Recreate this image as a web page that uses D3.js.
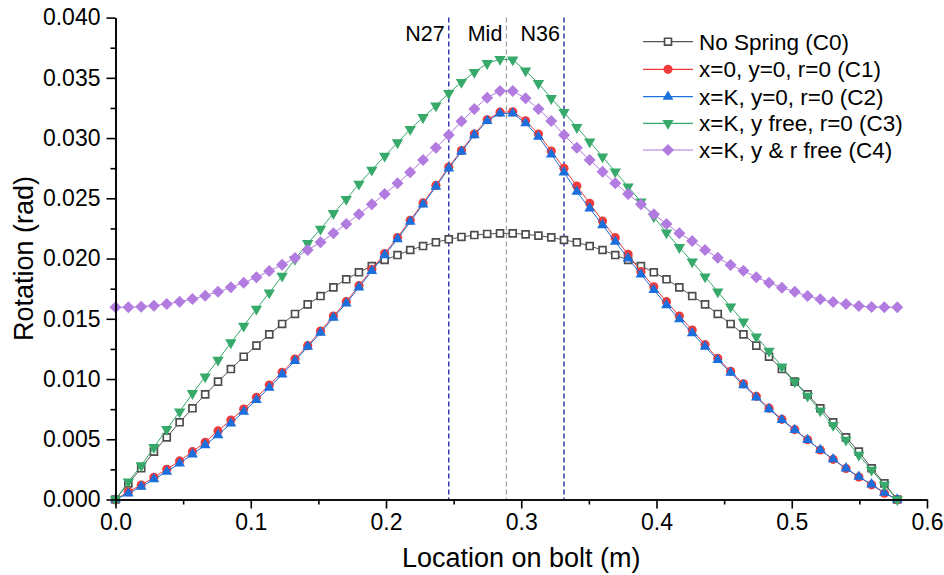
<!DOCTYPE html>
<html>
<head>
<meta charset="utf-8">
<script src="https://cdn.jsdelivr.net/npm/d3@7"></script>
<style>
  html, body { margin: 0; padding: 0; background: #fff; }
  svg { display: block; font-family: "Liberation Sans", Arial, sans-serif; }
</style>
</head>
<body>
<svg id="chart" width="944" height="575"></svg>
<script>
// Node locations along the bolt (m)
const location_m = [
  0.0000, 0.0095, 0.0190, 0.0284, 0.0379, 0.0474, 0.0569, 0.0663, 0.0758, 0.0853,
  0.0948, 0.1042, 0.1137, 0.1232, 0.1327, 0.1421, 0.1516, 0.1611, 0.1706, 0.1800,
  0.1895, 0.1990, 0.2085, 0.2179, 0.2274, 0.2369, 0.2464, 0.2558, 0.2653, 0.2748,
  0.2843, 0.2937, 0.3032, 0.3127, 0.3222, 0.3316, 0.3411, 0.3506, 0.3601, 0.3695,
  0.3790, 0.3885, 0.3980, 0.4074, 0.4169, 0.4264, 0.4359, 0.4453, 0.4548, 0.4643,
  0.4738, 0.4832, 0.4927, 0.5022, 0.5117, 0.5211, 0.5306, 0.5401, 0.5496, 0.5590,
  0.5685, 0.5780
];

// Rotation (rad) for each boundary-condition case
const rotC0 = [
  0, 0.00134, 0.00259, 0.00397, 0.00516, 0.00641, 0.00757, 0.00873, 0.00978, 0.01083,
  0.01185, 0.01277, 0.01371, 0.01457, 0.01540, 0.01620, 0.01689, 0.01761, 0.01828, 0.01886,
  0.01938, 0.01988, 0.02029, 0.02071, 0.02104, 0.02135, 0.02160, 0.02179, 0.02195, 0.02204,
  0.02209, 0.02209, 0.02201, 0.02190, 0.02176, 0.02154, 0.02135, 0.02104, 0.02071, 0.02029,
  0.01988, 0.01938, 0.01886, 0.01828, 0.01761, 0.01689, 0.01620, 0.01540, 0.01457, 0.01371,
  0.01277, 0.01185, 0.01083, 0.00978, 0.00873, 0.00757, 0.00641, 0.00516, 0.00397, 0.00259,
  0.00134, 0
];
const rotC1 = [
  0, 0.00065, 0.00120, 0.00184, 0.00251, 0.00320, 0.00397, 0.00475, 0.00569, 0.00660,
  0.00751, 0.00848, 0.00950, 0.01056, 0.01166, 0.01277, 0.01398, 0.01523, 0.01642, 0.01775,
  0.01910, 0.02042, 0.02175, 0.02318, 0.02462, 0.02607, 0.02760, 0.02897, 0.03034, 0.03152,
  0.03215, 0.03218, 0.03144, 0.03034, 0.02893, 0.02749, 0.02602, 0.02459, 0.02312, 0.02173,
  0.02035, 0.01891, 0.01766, 0.01642, 0.01523, 0.01407, 0.01285, 0.01172, 0.01064, 0.00960,
  0.00856, 0.00758, 0.00665, 0.00580, 0.00496, 0.00411, 0.00333, 0.00257, 0.00186, 0.00122,
  0.00052, 0
];
const rotC2 = [
  0, 0.00051, 0.00106, 0.00168, 0.00231, 0.00300, 0.00375, 0.00452, 0.00535, 0.00632,
  0.00729, 0.00826, 0.00928, 0.01039, 0.01150, 0.01268, 0.01384, 0.01509, 0.01628, 0.01761,
  0.01897, 0.02029, 0.02162, 0.02306, 0.02450, 0.02596, 0.02749, 0.02887, 0.03025, 0.03142,
  0.03205, 0.03205, 0.03123, 0.03011, 0.02865, 0.02716, 0.02555, 0.02417, 0.02278, 0.02140,
  0.02002, 0.01868, 0.01740, 0.01614, 0.01496, 0.01380, 0.01268, 0.01158, 0.01052, 0.00950,
  0.00848, 0.00751, 0.00660, 0.00577, 0.00494, 0.00411, 0.00334, 0.00259, 0.00189, 0.00126,
  0.00056, 0
];
const rotC3 = [
  0, 0.00148, 0.00281, 0.00433, 0.00583, 0.00729, 0.00881, 0.01019, 0.01158, 0.01302,
  0.01440, 0.01581, 0.01716, 0.01855, 0.01994, 0.02126, 0.02245, 0.02375, 0.02492, 0.02619,
  0.02735, 0.02851, 0.02962, 0.03073, 0.03172, 0.03269, 0.03372, 0.03463, 0.03546, 0.03620,
  0.03654, 0.03650, 0.03559, 0.03454, 0.03330, 0.03214, 0.03089, 0.02970, 0.02845, 0.02721,
  0.02596, 0.02472, 0.02347, 0.02214, 0.02093, 0.01974, 0.01849, 0.01725, 0.01600, 0.01476,
  0.01351, 0.01233, 0.01102, 0.00978, 0.00859, 0.00737, 0.00616, 0.00494, 0.00369, 0.00245,
  0.00120, 0
];
const rotC4 = [
  0.01595, 0.01595, 0.01600, 0.01609, 0.01623, 0.01642, 0.01664, 0.01692, 0.01725, 0.01761,
  0.01800, 0.01844, 0.01897, 0.01949, 0.02005, 0.02071, 0.02135, 0.02209, 0.02287, 0.02367,
  0.02450, 0.02536, 0.02624, 0.02716, 0.02818, 0.02920, 0.03025, 0.03139, 0.03241, 0.03335,
  0.03391, 0.03391, 0.03330, 0.03241, 0.03142, 0.03025, 0.02920, 0.02818, 0.02721, 0.02624,
  0.02536, 0.02450, 0.02367, 0.02287, 0.02209, 0.02146, 0.02071, 0.02007, 0.01946, 0.01899,
  0.01844, 0.01800, 0.01758, 0.01725, 0.01689, 0.01662, 0.01639, 0.01623, 0.01606, 0.01598,
  0.01595, 0.01595
];

const seriesNames = [
  "No Spring (C0)",
  "x=0, y=0, r=0 (C1)",
  "x=K, y=0, r=0 (C2)",
  "x=K, y free, r=0 (C3)",
  "x=K, y & r free (C4)"
];

// Marker locations
const refNames = ["N27", "Mid", "N36"];
const refLocations = [0.2464, 0.289, 0.3316];

// Axis ticks
const xTicks = [0, 0.1, 0.2, 0.3, 0.4, 0.5, 0.6];
const xMinorTicks = [0.05, 0.15, 0.25, 0.35, 0.45, 0.55];
const yTicks = [0, 0.005, 0.010, 0.015, 0.020, 0.025, 0.030, 0.035, 0.040];
const yMinorTicks = [0.0025, 0.0075, 0.0125, 0.0175, 0.0225, 0.0275, 0.0325, 0.0375];

const svg = d3.select("#chart");
const x = d3.scaleLinear().domain([0, 0.6]).range([115.5, 927]);
const y = d3.scaleLinear().domain([0, 0.04]).range([499.5, 17.6]);

const TICK_FONT = 23;
const LEGEND_FONT = 22.5;
const LABEL_FONT = 21.5;
const TITLE_FONT = 27;

// Series styling
const styles = [
  { values: rotC0, line: "#555555", symbol: d3.symbolSquare, size: 48, fill: "#ffffff", stroke: "#4d4d4d", sw: 1.7, rot: 0 },
  { values: rotC1, line: "#ef3b3b", symbol: d3.symbolCircle, size: 66, fill: "#ef3b3b", stroke: "none", sw: 0, rot: 0 },
  { values: rotC2, line: "#1b6fdc", symbol: d3.symbolTriangle, size: 50, fill: "#1b6fdc", stroke: "none", sw: 0, rot: 0 },
  { values: rotC3, line: "#37a96a", symbol: d3.symbolTriangle, size: 56, fill: "#37a96a", stroke: "none", sw: 0, rot: 180 },
  { values: rotC4, line: "#b27be0", symbol: d3.symbolSquare, size: 72, fill: "#b27be0", stroke: "none", sw: 0, rot: 45 }
];

// Reference lines
const refColors = ["#2c2ca8", "#8a8a8a", "#2c2ca8"];
refLocations.forEach((loc, i) => {
  svg.append("line")
    .attr("x1", x(loc)).attr("x2", x(loc))
    .attr("y1", y(0.04)).attr("y2", y(0))
    .attr("stroke", refColors[i])
    .attr("stroke-width", i === 1 ? 1 : 1.4)
    .attr("stroke-dasharray", "5,3");
  svg.append("text")
    .attr("x", x(loc) - 4)
    .attr("y", 41)
    .attr("text-anchor", "end")
    .attr("font-size", LABEL_FONT)
    .attr("fill", "#000")
    .text(refNames[i]);
});

// Series: connecting line then markers
styles.forEach(s => {
  const pts = location_m.map((lx, i) => [lx, s.values[i]]);
  svg.append("path")
    .datum(pts)
    .attr("fill", "none")
    .attr("stroke", s.line)
    .attr("stroke-width", 1)
    .attr("d", d3.line().x(d => x(d[0])).y(d => y(d[1])));
  const sym = d3.symbol().type(s.symbol).size(s.size);
  svg.append("g").selectAll("path")
    .data(pts)
    .join("path")
    .attr("d", sym)
    .attr("transform", d => `translate(${x(d[0])},${y(d[1])}) rotate(${s.rot})`)
    .attr("fill", s.fill)
    .attr("stroke", s.stroke)
    .attr("stroke-width", s.sw);
});

// Axes
const xAxis = svg.append("g").attr("transform", `translate(0,${y(0)})`)
  .call(d3.axisBottom(x).tickValues(xTicks).tickFormat(d3.format(".1f")).tickSize(9).tickSizeOuter(0).tickPadding(5));
const xMinor = svg.append("g").attr("transform", `translate(0,${y(0)})`)
  .call(d3.axisBottom(x).tickValues(xMinorTicks).tickFormat("").tickSize(5).tickSizeOuter(0));
const yAxis = svg.append("g").attr("transform", `translate(${x(0)},0)`)
  .call(d3.axisLeft(y).tickValues(yTicks).tickFormat(d3.format(".3f")).tickSize(9).tickSizeOuter(0).tickPadding(6));
const yMinor = svg.append("g").attr("transform", `translate(${x(0)},0)`)
  .call(d3.axisLeft(y).tickValues(yMinorTicks).tickFormat("").tickSize(5).tickSizeOuter(0));

[xAxis, xMinor, yAxis, yMinor].forEach(g => {
  g.selectAll(".domain").attr("stroke", "#000").attr("stroke-width", 1.6);
  g.selectAll(".tick line").attr("stroke", "#000").attr("stroke-width", 1.6);
  g.selectAll(".tick text").attr("font-size", TICK_FONT).attr("fill", "#000")
    .attr("font-family", "'Liberation Sans', Arial, sans-serif");
});

// Axis titles
svg.append("text")
  .attr("x", (x(0) + x(0.6)) / 2)
  .attr("y", 567)
  .attr("text-anchor", "middle")
  .attr("font-size", TITLE_FONT)
  .text("Location on bolt (m)");
svg.append("text")
  .attr("transform", `translate(33,${(y(0) + y(0.04)) / 2}) rotate(-90)`)
  .attr("text-anchor", "middle")
  .attr("font-size", TITLE_FONT)
  .text("Rotation (rad)");

// Legend
const legend = svg.append("g");
const rowY = [41.7, 69.3, 96.7, 123.3, 150];
styles.forEach((s, i) => {
  const row = legend.append("g").attr("transform", `translate(0,${rowY[i]})`);
  row.append("line").attr("x1", 643).attr("x2", 693).attr("y1", 0).attr("y2", 0)
    .attr("stroke", s.line).attr("stroke-width", 1.2);
  row.append("path")
    .attr("d", d3.symbol().type(s.symbol).size(s.size)())
    .attr("transform", `translate(668,0) rotate(${s.rot})`)
    .attr("fill", s.fill).attr("stroke", s.stroke).attr("stroke-width", s.sw);
  row.append("text").attr("x", 699).attr("y", 0).attr("dy", "0.35em")
    .attr("font-size", LEGEND_FONT).attr("fill", "#000")
    .text(seriesNames[i]);
});
</script>
</body>
</html>
